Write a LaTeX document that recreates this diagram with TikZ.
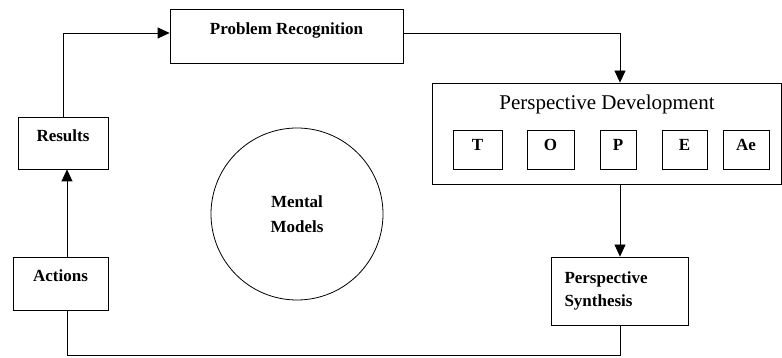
\documentclass[tikz,border=0pt]{standalone}
\usepackage{fontspec}
\setmainfont{Liberation Serif}
\usetikzlibrary{arrows.meta}
\begin{document}
\begin{tikzpicture}[line join=miter,>={Triangle[length=12pt,width=11pt]},x=1pt,y=-1pt,line width=0.8pt]
	\tikzset{box/.style={draw,rectangle,inner sep=0pt,font=\fontsize{17}{20}\selectfont\bfseries},
		upper/.style={text height=12pt,text depth=15pt}}
	\useasboundingbox (0,0) rectangle (782,358);
	\node[box,upper,minimum width=233pt,minimum height=54pt] (pr) at (286.5,36) {Problem Recognition};
	\node[box,upper,minimum width=90pt,minimum height=52pt] (res) at (63,143) {Results};
	\node[box,upper,minimum width=95pt,minimum height=53pt] (act) at (60.5,283.5) {Actions};
	\node[draw,circle,minimum size=172pt,align=center,font=\fontsize{17}{25}\selectfont\bfseries] (mm) at (297,214) {Mental\\Models};
	\node[draw,minimum width=349pt,minimum height=101pt,inner sep=0pt] (pd) at (606.5,133.5) {};
	\node[anchor=base,font=\fontsize{21}{24}\selectfont] (pdt) at (607,110) {Perspective Development};
	\foreach \x/\w/\t/\n in {477.5/49/T/tech,550.5/47/O/org,618/36/P/pers,684.5/45/E/eth,746/46/Ae/aes}
	\node[box,text height=12pt,text depth=9pt,minimum width=\w pt,minimum height=39pt] (\n) at (\x,149.5) {\t};
	\node[box,minimum width=137pt,minimum height=68pt,text width=111pt,align=left,font=\fontsize{17}{23}\selectfont\bfseries] (ps) at (620,291) {Perspective\\Synthesis};
	\draw[->] (res.north) |- ([yshift=3pt]pr.west);
	\draw[->] ([yshift=3pt]pr.east) -| (ps.north |- pd.north);
	\draw[->] (pd.south -| ps.north) -- (ps.north);
	\coordinate (lo) at (67,355);
	\draw (ps.south) |- (lo) -- (act.south -| lo);
	\draw[->] (act.north -| lo) -- (res.south -| lo);
\end{tikzpicture}
\end{document}
